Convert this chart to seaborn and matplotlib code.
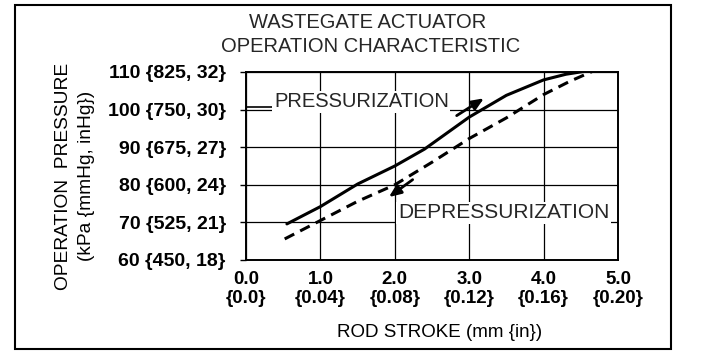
import matplotlib
matplotlib.use("Agg")
import matplotlib.pyplot as plt
import seaborn as sns
import pandas as pd
from matplotlib.patches import Rectangle

# ---- data ----
press_x = [0.55, 1.0, 1.5, 2.0, 2.4, 3.0, 3.5, 4.0, 4.3, 4.62]
press_y = [69.6, 74.2, 80.2, 85.0, 89.5, 98.0, 103.8, 107.9, 109.4, 110.4]
depress_x = [0.52, 1.0, 1.5, 2.0, 2.5, 3.0, 3.5, 4.0, 4.35, 4.66]
depress_y = [65.6, 70.5, 75.6, 80.0, 86.0, 92.3, 97.8, 104.0, 107.5, 110.2]

x_ticks = [0.0, 1.0, 2.0, 3.0, 4.0, 5.0]
x_labels = ["0.0\n{0.0}", "1.0\n{0.04}", "2.0\n{0.08}", "3.0\n{0.12}", "4.0\n{0.16}", "5.0\n{0.20}"]
y_ticks = [60, 70, 80, 90, 100, 110]
y_labels = ["60 {450, 18}", "70 {525, 21}", "80 {600, 24}", "90 {675, 27}",
            "100 {750, 30}", "110 {825, 32}"]

title_lines = ["WASTEGATE ACTUATOR", "OPERATION CHARACTERISTIC"]
x_title = "ROD STROKE (mm {in})"
y_title = "OPERATION  PRESSURE\n(kPa {mmHg, inHg})"

df = pd.concat([
    pd.DataFrame({"stroke": press_x, "pressure": press_y, "mode": "Pressurization"}),
    pd.DataFrame({"stroke": depress_x, "pressure": depress_y, "mode": "Depressurization"}),
])

sns.set_theme(style="white")
plt.rcParams["font.family"] = ["Liberation Sans", "DejaVu Sans"]

fig = plt.figure(figsize=(7.04, 3.56), dpi=100)
ax = fig.add_axes([246 / 704, 1 - 260 / 356, 372 / 704, 188 / 356])

sns.lineplot(data=df, x="stroke", y="pressure", hue="mode", style="mode",
             palette={"Pressurization": "black", "Depressurization": "black"},
             dashes={"Pressurization": "", "Depressurization": (3.5, 2.2)},
             sort=False, linewidth=2.2, legend=False, ax=ax)

ax.set_xlim(0, 5)
ax.set_ylim(60, 110)
ax.set_xticks(x_ticks)
ax.set_xticklabels(x_labels, fontsize=13.5, fontweight="bold", linespacing=1.12)
ax.set_yticks(y_ticks)
ax.set_yticklabels(y_labels, fontsize=14, fontweight="bold")
ax.tick_params(axis="y", length=4.5, width=1, direction="out", pad=10, colors="black", left=True)
ax.tick_params(axis="x", length=0, pad=8, colors="black")
ax.grid(True, color="black", linewidth=0.9)
for s in ax.spines.values():
    s.set_color("black")
    s.set_linewidth(1.4)

ax.set_xlabel(x_title, fontsize=13.5, color="black")
ax.xaxis.set_label_coords(0.52, -0.34)
ax.set_ylabel(y_title, fontsize=13.8, color="black", linespacing=1.45)
ax.yaxis.set_label_coords(-0.405, 0.445)

# annotations
ax.text(0.375, 102.1, "PRESSURIZATION", fontsize=14.5, va="center", ha="left",
        bbox=dict(facecolor="white", edgecolor="none", pad=1), zorder=3)
ax.plot([0.0, 0.36], [100.6, 100.6], color="black", lw=1.2)
ax.annotate("", xy=(3.23, 103.4), xytext=(2.8, 98.0),
            arrowprops=dict(arrowstyle="-|>,head_length=0.6,head_width=0.25",
                            color="black", lw=2))
ax.text(2.04, 72.5, "DEPRESSURIZATION", fontsize=15, va="center", ha="left",
        bbox=dict(facecolor="white", edgecolor="none", pad=1), zorder=3)
ax.annotate("", xy=(1.89, 76.3), xytext=(2.27, 81.8),
            arrowprops=dict(arrowstyle="-|>,head_length=0.6,head_width=0.25",
                            color="black", lw=2))

fig.text(368 / 704, 1 - 22 / 356, title_lines[0], fontsize=14.5, ha="center", va="center")
fig.text(371 / 704, 1 - 47 / 356, title_lines[1], fontsize=14.5, ha="center", va="center")

fig.add_artist(Rectangle((15 / 704, 1 - 349 / 356), 656 / 704, 344.5 / 356,
                         transform=fig.transFigure, fill=False, edgecolor="black", lw=1.5))

fig.savefig("out.png", dpi=100, facecolor="white")
